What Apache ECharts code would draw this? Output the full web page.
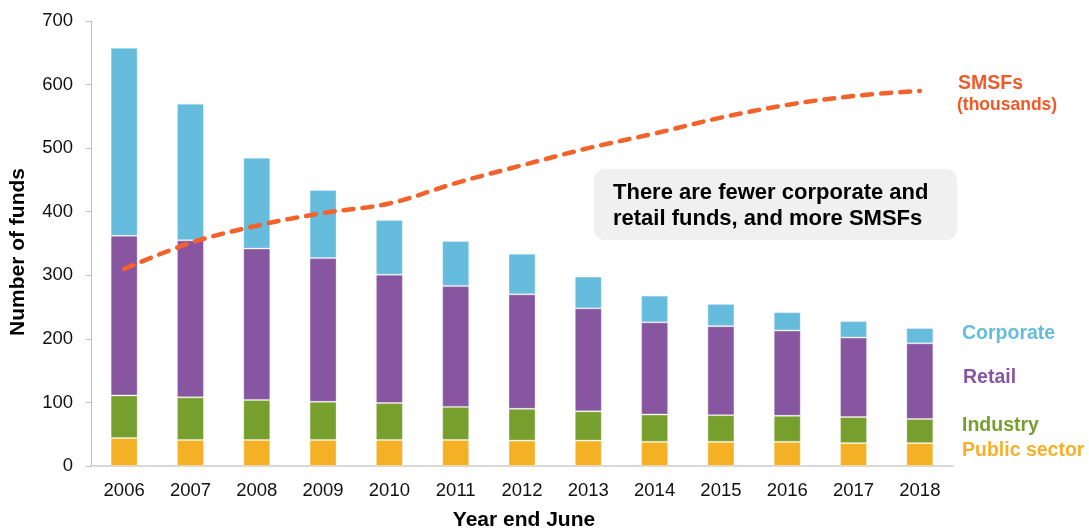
<!DOCTYPE html>
<html>
<head>
<meta charset="utf-8">
<script src="https://cdn.jsdelivr.net/npm/echarts@6/dist/echarts.min.js"></script>
<style>
  html, body { margin: 0; padding: 0; background: #ffffff; }
  #chart { width: 1089px; height: 529px; }
</style>
</head>
<body>
<div id="chart"></div>
<script>
// Superannuation funds by type, year end June
const years = ['2006','2007','2008','2009','2010','2011','2012','2013','2014','2015','2016','2017','2018'];
const publicSector = [44, 41, 41, 41, 41, 41, 40, 40, 38, 38, 38, 36, 36];
const industry     = [67, 67, 63, 60, 58, 52, 50, 46, 43, 42, 41, 41, 38];
const retail       = [251, 247, 238, 226, 202, 190, 180, 162, 145, 140, 134, 125, 119];
const corporate    = [296, 215, 143, 107, 86, 71, 64, 50, 42, 35, 29, 26, 24];
// Self-managed super funds, thousands
const smsfs        = [310, 351, 378, 398, 413, 445, 473, 500, 523, 548, 568, 582, 590];
const yTicks = [0, 100, 200, 300, 400, 500, 600, 700];

const COLORS = {
  publicSector: '#F4B126',
  industry: '#779F2E',
  retail: '#8855A0',
  corporate: '#66BCDC',
  smsf: '#F2622A'
};
const FONT = '"Liberation Sans", Arial, sans-serif';

const chart = echarts.init(document.getElementById('chart'), null, { renderer: 'canvas' });

function barSeries(name, data, color) {
  return {
    name: name,
    type: 'bar',
    stack: 'funds',
    data: data,
    barWidth: 27,
    itemStyle: { color: color, borderColor: 'rgba(255,255,255,0.3)', borderWidth: 1 },
    emphasis: { disabled: true },
    silent: true
  };
}

function sideLabel(text, x, y, color, size) {
  return {
    type: 'text', x: x, y: y, z: 11,
    style: { text: text, fill: color, font: 'bold ' + size + 'px ' + FONT, verticalAlign: 'middle' }
  };
}

const option = {
  animation: false,
  backgroundColor: '#ffffff',
  grid: { left: 91, right: 136, top: 21, bottom: 63, containLabel: false },
  xAxis: {
    type: 'category',
    data: years,
    axisLine: { show: true, lineStyle: { color: '#D9D9D9', width: 2 } },
    axisTick: { show: false },
    axisLabel: { color: '#111', fontFamily: FONT, fontSize: 18.5, margin: 15 }
  },
  yAxis: {
    type: 'value',
    min: yTicks[0],
    max: yTicks[yTicks.length - 1],
    interval: 100,
    axisLine: { show: true, lineStyle: { color: '#BFBFBF', width: 1 } },
    axisTick: { show: true, length: 5, lineStyle: { color: '#BFBFBF' } },
    splitLine: { show: false },
    axisLabel: { color: '#111', fontFamily: FONT, fontSize: 18.5, margin: 18 }
  },
  series: [
    barSeries('Public sector', publicSector, COLORS.publicSector),
    barSeries('Industry', industry, COLORS.industry),
    barSeries('Retail', retail, COLORS.retail),
    barSeries('Corporate', corporate, COLORS.corporate),
    {
      name: 'SMSFs',
      type: 'line',
      data: smsfs,
      smooth: 0.35,
      symbol: 'none',
      z: 5,
      lineStyle: { color: COLORS.smsf, width: 4.5, type: [10, 9], cap: 'round' },
      emphasis: { disabled: true },
      silent: true
    }
  ],
  graphic: [
    {
      type: 'text',
      x: 18.5, y: 252,
      rotation: Math.PI / 2,
      style: {
        text: 'Number of funds',
        fill: '#000',
        font: 'bold 21px ' + FONT,
        align: 'center',
        verticalAlign: 'middle'
      }
    },
    {
      type: 'text',
      x: 524, y: 520,
      style: {
        text: 'Year end June',
        fill: '#000',
        font: 'bold 21px ' + FONT,
        align: 'center',
        verticalAlign: 'middle'
      }
    },
    {
      type: 'rect',
      shape: { x: 594, y: 169, width: 363, height: 71, r: 11 },
      style: { fill: '#F0F0F0' },
      z: 10
    },
    {
      type: 'text',
      x: 613, y: 206,
      z: 11,
      style: {
        text: 'There are fewer corporate and\nretail funds, and more SMSFs',
        fill: '#000',
        font: 'bold 22px ' + FONT,
        lineHeight: 26,
        verticalAlign: 'middle'
      }
    },
    sideLabel('SMSFs', 958, 84, '#F05A28', 19.5),
    sideLabel('(thousands)', 957, 105.5, '#F05A28', 17.5),
    sideLabel('Corporate', 962, 334, COLORS.corporate, 19.5),
    sideLabel('Retail', 963, 377.5, COLORS.retail, 19.5),
    sideLabel('Industry', 962, 425.5, COLORS.industry, 19.5),
    sideLabel('Public sector', 962, 450.5, '#F5B12A', 19.5)
  ]
};

chart.setOption(option);
</script>
</body>
</html>
